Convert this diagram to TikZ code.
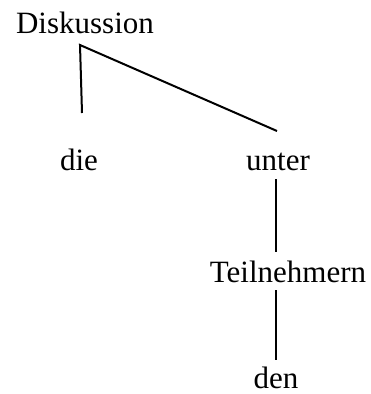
\documentclass[tikz,border=0pt]{standalone}
\usepackage{fontspec}
\setmainfont{Liberation Serif}
\begin{document}
\begin{tikzpicture}[x=1pt,y=-1pt,
  word/.style={anchor=base,inner sep=0pt,font=\fontsize{31}{37}\selectfont},
  edge/.style={line width=2pt}]
\useasboundingbox (0,0) rectangle (371,394);
\node[word] (disk) at (85,33) {Diskussion};
\node[word] (die) at (79,170) {die};
\node[word] (unter) at (278,170) {unter};
\node[word] (teil) at (288,282) {Teilnehmern};
\node[word] (den) at (276,388) {den};
\coordinate (root) at (80,45);
\coordinate (dieTop) at (82,113);
\coordinate (unterTop) at (277,131);
\coordinate (unterBot) at (276,179);
\coordinate (teilTop) at (276,252);
\coordinate (teilBot) at (276,290);
\coordinate (denTop) at (276,360);
\draw[edge] (dieTop) -- (root) -- (unterTop);
\draw[edge] (unterBot) -- (teilTop);
\draw[edge] (teilBot) -- (denTop);
\end{tikzpicture}
\end{document}
